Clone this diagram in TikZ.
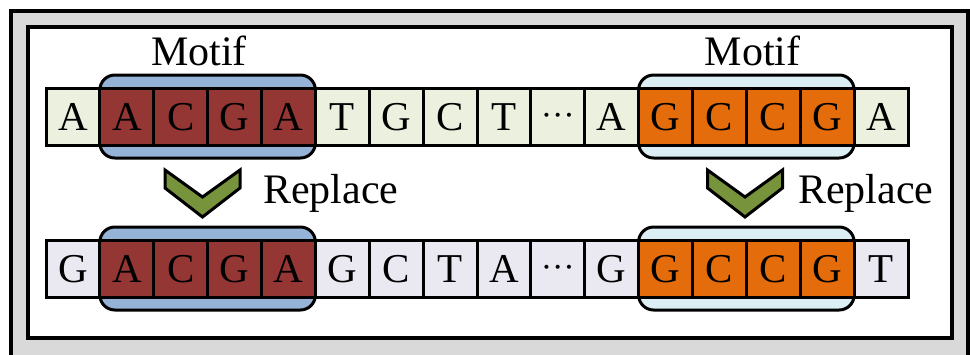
\documentclass[tikz,border=0pt]{standalone}
\usepackage{fontspec}
\setmainfont{Liberation Serif}
\usetikzlibrary{fit,backgrounds}

\definecolor{framegray}{HTML}{D9D9D9}
\definecolor{seqgreen}{HTML}{EBF1DE}
\definecolor{seqlav}{HTML}{EAE8F1}
\definecolor{motifred}{HTML}{943634}
\definecolor{motiforange}{HTML}{E46C0A}
\definecolor{boxblue}{HTML}{95B3D7}
\definecolor{boxlight}{HTML}{DBEEF4}
\definecolor{chevgreen}{HTML}{77933C}

\newcommand\midots{\raisebox{4pt}{\fontsize{34}{36}\selectfont\textperiodcentered\textperiodcentered\textperiodcentered}}

\tikzset{
  txt/.style={font=\fontsize{42}{50}\selectfont, inner sep=0pt},
  cell/.style={font=\fontsize{41}{48}\selectfont, inner sep=0pt,
    draw=black, line width=3pt, outer sep=0pt,
    minimum width=53.875pt, minimum height=57pt,
    text height=27pt, text depth=0pt},
  motifbox/.style={draw=black, line width=3pt, rounded corners=15pt,
    inner xsep=0pt, inner ysep=13pt},
  chevron/.style={draw=black, line width=3pt, fill=chevgreen, line join=miter},
  pics/chev/.style={code={
    \path[chevron] (-37.5,0) -- (0,27) -- (37.5,0) -- (37.5,18)
      -- (0,47) -- (-37.5,18) -- cycle;}}
}

\begin{document}
\begin{tikzpicture}[x=1pt,y=-1pt]
\useasboundingbox (0,0) rectangle (970,354);

% frames
\begin{pgfonlayer}{background}
  \draw[line width=3.5pt, fill=framegray] (11,11) rectangle (968,360);
  \draw[line width=3.5pt, fill=white] (28,27) rectangle (952,338);
\end{pgfonlayer}

% original sequence
\foreach \l/\c [count=\i] in {A/seqgreen,A/motifred,C/motifred,G/motifred,
    A/motifred,T/seqgreen,G/seqgreen,C/seqgreen,T/seqgreen,\midots/seqgreen,
    A/seqgreen,G/motiforange,C/motiforange,C/motiforange,G/motiforange,A/seqgreen}
  \node[cell, fill=\c] (t\i) at ({46+(\i-0.5)*53.875},116.5) {\l};

% replaced sequence
\foreach \l/\c [count=\i] in {G/seqlav,A/motifred,C/motifred,G/motifred,
    A/motifred,G/seqlav,C/seqlav,T/seqlav,A/seqlav,\midots/seqlav,
    G/seqlav,G/motiforange,C/motiforange,C/motiforange,G/motiforange,T/seqlav}
  \node[cell, fill=\c] (b\i) at ({46+(\i-0.5)*53.875},268.5) {\l};

% motif highlights behind the cells
\begin{pgfonlayer}{background}
  \node[motifbox, fill=boxblue,  fit=(t2)(t5)]   (mt1) {};
  \node[motifbox, fill=boxlight, fit=(t12)(t15)] (mt2) {};
  \node[motifbox, fill=boxblue,  fit=(b2)(b5)]   (mb1) {};
  \node[motifbox, fill=boxlight, fit=(b12)(b15)] (mb2) {};
\end{pgfonlayer}

% labels
\node[txt, anchor=base] (lab1) at (199,65) {Motif};
\node[txt, anchor=base] (lab2) at (752.5,65) {Motif};
\node[txt, anchor=base west] (rep1) at (263,203) {Replace};
\node[txt, anchor=base west] (rep2) at (798,203) {Replace};

% replacement arrows
\pic at (202.5,170) {chev};
\pic at (745,170) {chev};
\end{tikzpicture}
\end{document}
